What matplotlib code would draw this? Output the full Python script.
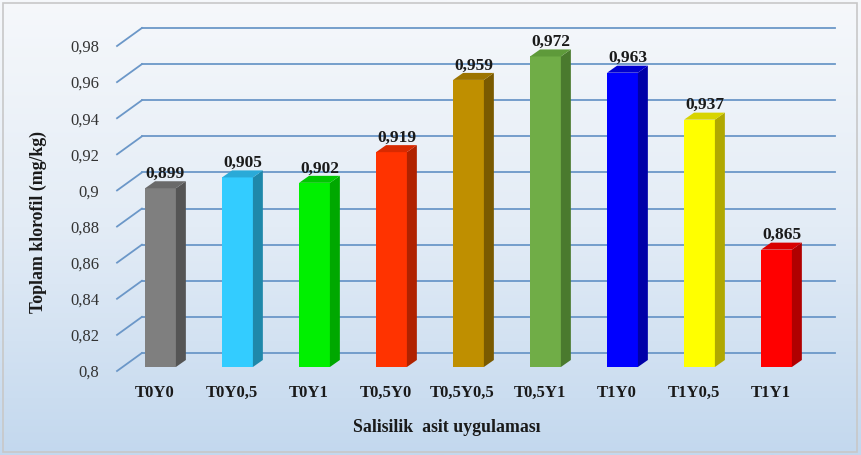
import numpy as np
import matplotlib.pyplot as plt
from matplotlib.patches import Polygon, Rectangle
from matplotlib.transforms import ScaledTranslation
from matplotlib.colors import LinearSegmentedColormap

# data
categories = ['T0Y0', 'T0Y0,5', 'T0Y1', 'T0,5Y0', 'T0,5Y0,5', 'T0,5Y1', 'T1Y0', 'T1Y0,5', 'T1Y1']
values = [0.899, 0.905, 0.902, 0.919, 0.959, 0.972, 0.963, 0.937, 0.865]
labels = ['0,899', '0,905', '0,902', '0,919', '0,959', '0,972', '0,963', '0,937', '0,865']
yticks = [0.80, 0.82, 0.84, 0.86, 0.88, 0.90, 0.92, 0.94, 0.96, 0.98]
ytick_labels = ['0,8', '0,82', '0,84', '0,86', '0,88', '0,9', '0,92', '0,94', '0,96', '0,98']
front_colors = ['#7f7f7f', '#33ccff', '#00f000', '#ff3300', '#bf8f00', '#70ad47', '#0000ff', '#ffff00', '#ff0000']
side_colors = ['#555555', '#1f88aa', '#00a800', '#b02200', '#7a5a00', '#4a7a2e', '#0000a8', '#b0a800', '#b00000']
top_colors = ['#6a6a6a', '#2aaad8', '#00c800', '#d82a00', '#9c7400', '#5e9a3a', '#0000d0', '#d8d400', '#d80000']

plt.rcParams['font.family'] = ['Liberation Serif', 'DejaVu Serif']

fig = plt.figure(figsize=(8.62, 4.55), dpi=100)

# gradient background
bg = fig.add_axes([0, 0, 1, 1], zorder=-10)
grad = np.linspace(0, 1, 256).reshape(-1, 1)
cmap = LinearSegmentedColormap.from_list('bg', ['#f6f8fb', '#e3ecf6', '#c3d8ee'])
bg.imshow(grad, aspect='auto', cmap=cmap, extent=[0, 1, 0, 1])
bg.add_patch(Rectangle((0.004, 0.006), 0.99, 0.988, fill=False, edgecolor='#c8c8c8', lw=1.2))
bg.set_xlim(0, 1)
bg.set_ylim(0, 1)
bg.axis('off')

ax = fig.add_axes([122 / 862, 88 / 455, 693 / 862, 325 / 455])
ax.set_xlim(-0.5, 8.5)
ax.set_ylim(0.8, 0.98)
ax.patch.set_alpha(0)
for s in ax.spines.values():
    s.set_visible(False)

x = np.arange(len(categories))
w = 0.40
# depth offsets in data units
bdx, bdy = 10 / 77.3, 7 / 1805          # bar depth
wdx, wdy = 20 / 77.3, 14 / 1805         # back wall
fdx, fdy = -5 / 77.3, -4 / 1805         # front plane

grid_color = '#6b97c8'
for v in yticks:
    ax.plot([-0.5 + wdx, 8.5 + wdx], [v + wdy, v + wdy], color=grid_color, lw=1.3, clip_on=False, zorder=1)
    ax.plot([-0.5 + fdx, -0.5 + wdx], [v + fdy, v + wdy], color=grid_color, lw=1.3, clip_on=False, zorder=1)

ax.bar(x, np.array(values) - 0.8, bottom=0.8, width=w, color=front_colors, zorder=3, clip_on=False)
for i, v in enumerate(values):
    xl, xr = x[i] - w / 2, x[i] + w / 2
    side = Polygon([(xr, 0.8), (xr, v), (xr + bdx, v + bdy), (xr + bdx, 0.8 + bdy)],
                   closed=True, facecolor=side_colors[i], edgecolor='none', zorder=3, clip_on=False)
    top = Polygon([(xl, v), (xr, v), (xr + bdx, v + bdy), (xl + bdx, v + bdy)],
                  closed=True, facecolor=top_colors[i], edgecolor='none', zorder=3, clip_on=False)
    ax.add_patch(side)
    ax.add_patch(top)
    ax.annotate(labels[i], (x[i] + bdx / 2, v), xytext=(0, 7.5), textcoords='offset points',
                ha='center', va='baseline', fontsize=12.5, fontweight='bold', color='#1a1a1a')

ax.set_yticks(yticks)
ax.set_yticklabels(ytick_labels, fontsize=12, color='#333333')
ax.tick_params(axis='y', length=0, pad=16.5)
for lab in ax.get_yticklabels():
    lab.set_transform(lab.get_transform() + ScaledTranslation(0, -0.04, fig.dpi_scale_trans))

ax.set_xticks(x)
ax.set_xticklabels(categories, fontsize=12, fontweight='bold', color='#1a1a1a', va='baseline')
ax.tick_params(axis='x', length=0, pad=21.5)
for lab in ax.get_xticklabels():
    lab.set_transform(lab.get_transform() + ScaledTranslation(-0.06, 0, fig.dpi_scale_trans))

fig.text(447 / 862, 1 - 427 / 455, 'Salisilik  asit uygulaması', ha='center', va='center',
         fontsize=12.8, fontweight='bold', color='#1a1a1a')
fig.text(38 / 862, 1 - 222 / 455, 'Toplam klorofil (mg/kg)', ha='center', va='center', rotation=90,
         fontsize=12.8, fontweight='bold', color='#1a1a1a')

plt.savefig('out.png', dpi=100)
